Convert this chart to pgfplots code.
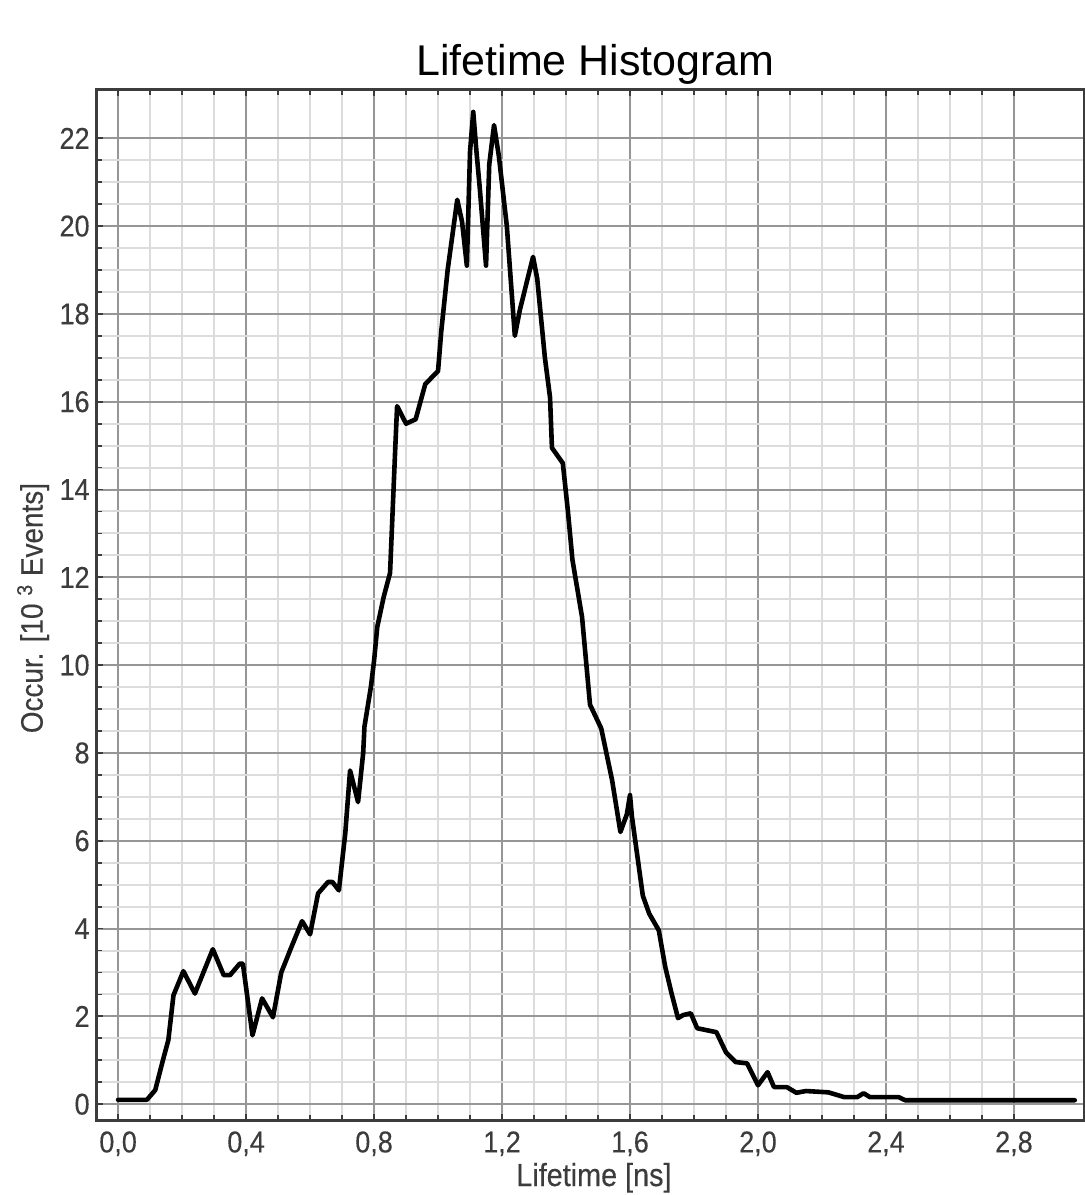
\documentclass[border=0pt]{standalone}
\usepackage{pgfplots}
\pgfplotsset{compat=1.18}
\usepackage{fontspec}
\setmainfont{Liberation Sans}
\newfontfamily\narrow[FakeStretch=0.9,FakeBold=0.3]{Liberation Sans}
\definecolor{majgrid}{RGB}{150,150,150}
\definecolor{mingrid}{RGB}{220,220,220}
\definecolor{labgray}{RGB}{60,60,60}
\definecolor{axgray}{RGB}{60,60,60}
\begin{document}
\begin{tikzpicture}
\useasboundingbox (-48.5pt,-37.5pt) rectangle (493.5pt,560pt);
\begin{axis}[
  scale only axis,
  width=493.5pt, height=515pt,
  xmin=-0.066, xmax=3.019,
  ymin=-0.36, ymax=23.1,
  xtick={0,0.4,0.8,1.2,1.6,2.0,2.4,2.8},
  xticklabels={{0,0},{0,4},{0,8},{1,2},{1,6},{2,0},{2,4},{2,8}},
  ytick={0,2,4,6,8,10,12,14,16,18,20,22},
  yticklabels={0,2,4,6,8,10,12,14,16,18,20,22},
  minor x tick num=3,
  minor y tick num=3,
  grid=both,
  major grid style={draw=majgrid, line width=1pt},
  minor grid style={draw=mingrid, line width=1pt},
  tick align=inside,
  xtick pos=both,
  ytick pos=left,
  major tick length=3pt,
  minor tick length=2.5pt,
  every tick/.style={axgray, line width=0.9pt},
  axis line style={draw=axgray, line width=1.5pt},
  xticklabel style={font=\narrow\fontsize{15}{17}\selectfont, text=labgray, inner sep=0pt, anchor=north, yshift=-5.5pt},
  yticklabel style={font=\narrow\fontsize{15}{17}\selectfont, text=labgray, inner sep=0pt, anchor=east, xshift=-3.5pt},
  title={Lifetime Histogram},
  title style={at={(rel axis cs:0.505,1.002)}, anchor=base, font=\fontsize{21.5}{24}\selectfont, inner sep=0pt},
  xlabel={Lifetime [ns]},
  xlabel style={at={(rel axis cs:0.5035,-0.0641)}, anchor=base, font=\narrow\fontsize{16}{18}\selectfont, text=labgray, inner sep=0pt},
  ylabel={Occur. [10\ \textsuperscript{3} Events]},
  ylabel style={at={(rel axis cs:-0.0648,0.497)}, anchor=center, font=\narrow\fontsize{15.5}{18}\selectfont, text=labgray, inner sep=0pt},
]
\addplot[black, line width=2.3pt, line join=round, line cap=round] coordinates {
(0.00,0.10) (0.09,0.10) (0.116,0.32) (0.14,1.0) (0.157,1.46) (0.173,2.48)
(0.204,3.03) (0.24,2.52) (0.296,3.53) (0.33,2.94) (0.35,2.94) (0.38,3.2)
(0.39,3.2) (0.42,1.57) (0.45,2.41) (0.484,1.98) (0.51,3.0) (0.54,3.55)
(0.575,4.17) (0.60,3.87) (0.625,4.8) (0.656,5.06) (0.67,5.06) (0.69,4.87)
(0.71,6.17) (0.725,7.6) (0.75,6.88) (0.766,8.0) (0.77,8.6) (0.79,9.5)
(0.80,10.1) (0.81,10.87) (0.83,11.55) (0.85,12.1) (0.866,14.9) (0.872,15.9)
(0.90,15.5) (0.93,15.6) (0.96,16.4) (1.00,16.7) (1.01,17.6) (1.03,19.0)
(1.06,20.6) (1.075,20.1) (1.09,19.1) (1.10,21.7) (1.11,22.6) (1.12,21.7)
(1.13,20.9) (1.15,19.1) (1.16,21.4) (1.175,22.3) (1.19,21.6) (1.215,20.0)
(1.24,17.5) (1.256,18.1) (1.297,19.3) (1.31,18.8) (1.334,17.0) (1.35,16.1)
(1.356,14.95) (1.39,14.6) (1.406,13.5) (1.42,12.4) (1.45,11.1) (1.475,9.1)
(1.51,8.56) (1.544,7.38) (1.57,6.2) (1.59,6.6) (1.60,7.04) (1.606,6.55)
(1.64,4.75) (1.66,4.34) (1.69,3.96) (1.71,3.13) (1.73,2.52) (1.75,1.96)
(1.766,2.03) (1.79,2.07) (1.81,1.73) (1.87,1.64) (1.90,1.18) (1.93,0.96)
(1.966,0.93) (2.00,0.43) (2.03,0.73) (2.05,0.39) (2.09,0.39) (2.12,0.26)
(2.15,0.30) (2.22,0.27) (2.27,0.16) (2.31,0.16) (2.33,0.25) (2.35,0.16)
(2.44,0.16) (2.46,0.09) (2.99,0.09)
};
\end{axis}
\end{tikzpicture}
\end{document}
